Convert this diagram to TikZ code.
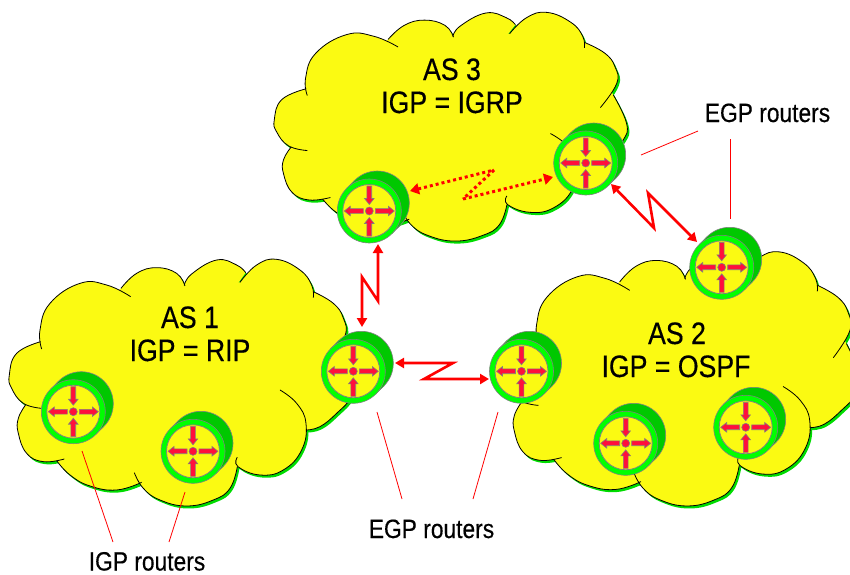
\documentclass[tikz,border=0pt]{standalone}
\usepackage{fontspec}
\setmainfont{Liberation Sans}[FakeStretch=0.86,FakeBold=0.35]
\usetikzlibrary{arrows.meta,calc}
\definecolor{cloudyellow}{HTML}{FBFA12}
\definecolor{shadowgreen}{HTML}{00DC00}
\definecolor{ringgreen}{HTML}{00FF00}
\definecolor{darkgreen}{HTML}{00C800}
\definecolor{arrowred}{HTML}{FF0F3C}
\definecolor{edgegray}{HTML}{808080}
\tikzset{
  aslabel/.style={font=\fontsize{31}{31}\selectfont,anchor=base,inner sep=0pt},
  routerlabel/.style={font=\fontsize{26.5}{26.5}\selectfont,anchor=base,inner sep=0pt},
  zigzag/.style={draw=red,line width=2.6pt,line join=miter,{Triangle[width=10pt,length=9pt]}-{Triangle[width=10pt,length=9pt]}},
  dottedzig/.style={draw=red,line width=3pt,dash pattern=on 3pt off 3pt,-{Triangle[width=11pt,length=9pt]}},
  pointer/.style={draw=red,line width=0.8pt},
  routerarrow/.style={fill=arrowred,draw=edgegray,line width=0.6pt,line join=miter}
}
% the lobes of a cloud, in one shared outline
\newcommand\allLobes[1]{%
#1{(125,297)(120,240)(150,160)(240,100)(320,105)(392,140)}%
#1{(363,115)(410,70)(470,53)(530,70)(555,108)}%
#1{(553,106)(575,72)(650,30)(710,45)(737,68)}%
#1{(720,97)(770,45)(830,28)(900,60)(935,105)(940,143)}%
#1{(940,125)(1000,160)(1030,204)(1035,258)(987,336)}%
#1{(1025,295)(1064,387)(1054,441)(1010,490)(960,530)(918,540)}%
#1{(840,420)(890,460)(918,520)(905,600)(850,660)(780,675)(714,650)(712,622)}%
#1{(712,650)(690,715)(640,750)(560,768)(480,750)(430,715)(403,668)}%
#1{(425,697)(350,720)(270,708)(210,675)(170,632)}%
#1{(193,627)(130,635)(80,610)(55,550)(55,505)(78,463)}%
#1{(125,475)(70,460)(35,415)(28,375)(50,310)(122,275)}%
}
\newcommand\cloudCore{(122,290) -- (363,115) -- (555,108) -- (720,97) -- (940,135) -- (1025,295) -- (918,540) -- (712,650) -- (403,668) -- (193,627) -- (125,475) -- cycle}
\newcommand\lobeGreen[1]{\fill[shadowgreen] plot[smooth,tension=0.75] coordinates{#1} -- (500,400) -- cycle;}
\newcommand\lobeYellow[1]{\fill[cloudyellow] plot[smooth,tension=0.75] coordinates{#1} -- (500,400) -- cycle;}
\newcommand\lobeLine[1]{\draw[black,line width=0.8pt] plot[smooth,tension=0.75] coordinates{#1};}
\newcommand\cloudAt[4]{%
  \begin{scope}[shift={(#1+2,#2+2.5)},xscale=#3,yscale=#4]\allLobes\lobeGreen\fill[shadowgreen] \cloudCore;\end{scope}
  \begin{scope}[shift={(#1,#2)},xscale=#3,yscale=#4]\allLobes\lobeYellow\fill[cloudyellow] \cloudCore;\allLobes\lobeLine\end{scope}
}
\newcommand\routerAt[3]{%
  \coordinate (#1) at (#2,#3);
  \begin{scope}[shift={(#1)}]
    \fill[darkgreen,draw=edgegray,line width=0.6pt] (8,-8) circle (32);
    \fill[darkgreen] (-22.6,-22.6) -- (-14.6,-30.6) -- (30.6,14.6) -- (22.6,22.6) -- cycle;
    \draw[edgegray,line width=0.6pt] (-22.6,-22.6) -- (-14.6,-30.6) (22.6,22.6) -- (30.6,14.6);
    \fill[ringgreen,draw=edgegray,line width=0.6pt] (0,0) circle (32);
    \fill[cloudyellow,draw=edgegray,line width=0.8pt] (0,0) circle (26.5);
    \foreach \a in {0,180}
      \path[routerarrow,rotate=\a] (6,-2.4) -- (19,-2.4) -- (19,-4.8) -- (25,0) -- (19,4.8) -- (19,2.4) -- (6,2.4) -- cycle;
    \foreach \a in {90,270}
      \path[routerarrow,rotate=\a] (25,-2.4) -- (12.5,-2.4) -- (12.5,-4.8) -- (6.5,0) -- (12.5,4.8) -- (12.5,2.4) -- (25,2.4) -- cycle;
    \path[routerarrow] (0,0) circle (4);
  \end{scope}
}
\begin{document}
\begin{tikzpicture}[x=1pt,y=-1pt]
\useasboundingbox (0,0) rectangle (850,574);
\fill[white] (0,0) rectangle (850,574);
% clouds
\cloudAt{264.8}{3.75}{0.34}{0.309}
\cloudAt{495.5}{242.3}{0.3423}{0.3433}
\cloudAt{0}{250}{0.3333}{0.3333}
% cloud texts
\node[aslabel] (as1) at (190,328) {AS 1};
\node[aslabel] (igp1) at (190,361) {IGP = RIP};
\node[aslabel] (as3) at (452,80) {AS 3};
\node[aslabel] (igp3) at (452,113) {IGP = IGRP};
\node[aslabel] (as2) at (677,344) {AS 2};
\node[aslabel] (igp2) at (676,377) {IGP = OSPF};
% routers
\routerAt{ra}{73.3}{411.7}
\routerAt{rb}{193}{451.3}
\routerAt{rc}{353.3}{371.3}
\routerAt{rd}{521.5}{371.3}
\routerAt{re}{625.7}{443.3}
\routerAt{rf}{745.7}{427.3}
\routerAt{rg}{721.7}{267.3}
\routerAt{rh}{369.3}{211}
\routerAt{ri}{585.7}{163}
% links
\coordinate (z1a) at (395,363);\coordinate (z1b) at (453,363);\coordinate (z1c) at (424,379);\coordinate (z1d) at (489,379);
\draw[zigzag] (z1a) -- (z1b) -- (z1c) -- (z1d);
\coordinate (z2a) at (378,244);\coordinate (z2b) at (378,301);\coordinate (z2c) at (362,277);\coordinate (z2d) at (362,327);
\draw[zigzag] (z2a) -- (z2b) -- (z2c) -- (z2d);
\coordinate (z3a) at (611,184);\coordinate (z3b) at (654,228);\coordinate (z3c) at (648,193);\coordinate (z3d) at (697,242);
\draw[zigzag] (z3a) -- (z3b) -- (z3c) -- (z3d);
\coordinate (d1) at (410,191);\coordinate (d2) at (494,170);\coordinate (d3) at (463,199);\coordinate (d4) at (553,177);
\draw[dottedzig,{Triangle[width=11pt,length=9pt]}-] (d1) -- (d2);
\draw[dottedzig,-] (d2) -- (d3);
\draw[dottedzig] (d3) -- (d4);
% labels and pointers
\node[routerlabel] (egptop) at (767.5,122) {EGP routers};
\node[routerlabel] (egpbot) at (431.5,538) {EGP routers};
\node[routerlabel] (igpbot) at (147,570.5) {IGP routers};
\coordinate (p1a) at (641,155);\coordinate (p1b) at (698,131);
\coordinate (p2a) at (730,139);\coordinate (p2b) at (730,219);
\coordinate (p3a) at (377,412);\coordinate (p3b) at (402,499);
\coordinate (p4a) at (498,412);\coordinate (p4b) at (473,499);
\coordinate (p5a) at (82,451);\coordinate (p5b) at (113,542);
\coordinate (p6a) at (185,492);\coordinate (p6b) at (169,542);
\draw[pointer] (p1a) -- (p1b);
\draw[pointer] (p2a) -- (p2b);
\draw[pointer] (p3a) -- (p3b);
\draw[pointer] (p4a) -- (p4b);
\draw[pointer] (p5a) -- (p5b);
\draw[pointer] (p6a) -- (p6b);
\end{tikzpicture}
\end{document}
